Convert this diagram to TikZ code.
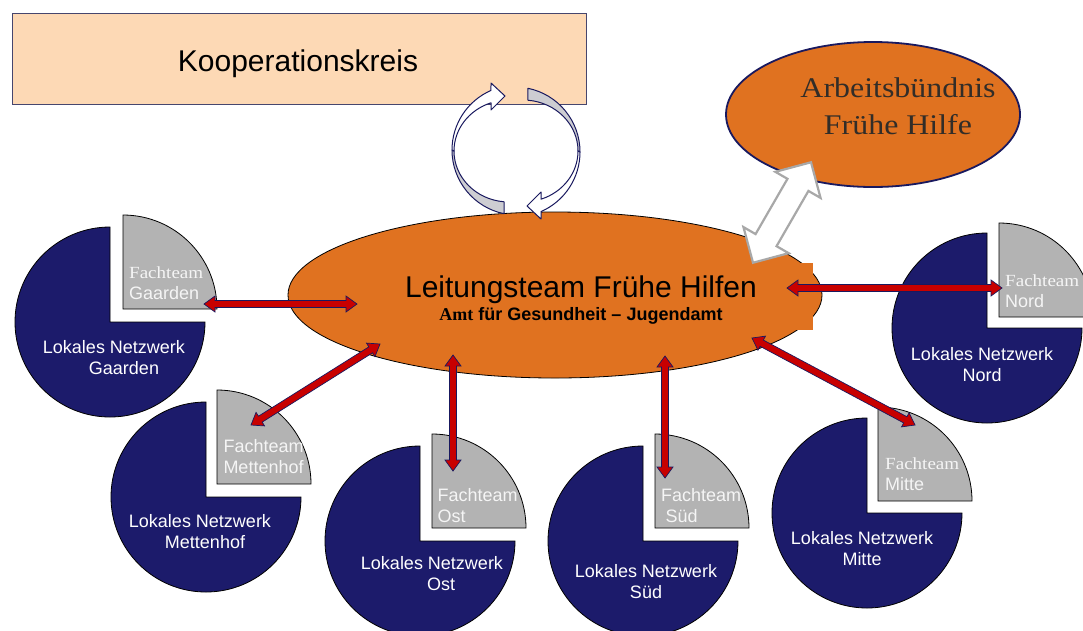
\documentclass[tikz,border=0pt]{standalone}
\usepackage{fontspec}
\setmainfont{Liberation Sans}
\newfontfamily\camb[FakeStretch=1.12]{Liberation Serif}
\newfontfamily\timesf{Liberation Serif}
\usetikzlibrary{shapes.geometric,shapes.arrows,calc}
\definecolor{orangeF}{RGB}{224,114,32}
\definecolor{navyP}{RGB}{28,27,107}
\definecolor{grayQ}{RGB}{179,179,179}
\definecolor{peach}{RGB}{253,217,181}
\definecolor{redA}{RGB}{200,0,0}
\definecolor{navyL}{RGB}{25,25,95}
\definecolor{boxline}{RGB}{70,70,110}
\definecolor{cycgray}{RGB}{205,205,210}
\definecolor{arrgray}{RGB}{168,168,168}
\definecolor{darktext}{RGB}{50,45,40}
\definecolor{fachtext}{RGB}{245,245,245}
\newcommand\pie[4]{%
  \filldraw[navypie] (#1,#2) -- ++(0:95) arc[start angle=0,end angle=270,radius=95] -- cycle;
  \filldraw[graypie] (#3,#4) -- ++(270:94) arc[start angle=270,end angle=360,radius=94] -- cycle;}
\newcommand\redarrow[2]{%
  \path ($(#1)!11pt!(#2)$) coordinate (ra1) ($(#2)!11pt!(#1)$) coordinate (ra2);
  \filldraw[redarr] (#1) -- ($(ra1)!8pt!90:(#2)$) -- ($(ra1)!3.5pt!90:(#2)$) -- ($(ra2)!3.5pt!-90:(#1)$) -- ($(ra2)!8pt!-90:(#1)$) -- (#2) -- ($(ra2)!8pt!90:(#1)$) -- ($(ra2)!3.5pt!90:(#1)$) -- ($(ra1)!3.5pt!-90:(#2)$) -- ($(ra1)!8pt!-90:(#2)$) -- cycle;}
\newcommand\cyclearrow{%
  \filldraw[cycpart, fill=cycgray] (517,150) ++(101.5:65) arc[start angle=101.5,end angle=180,radius=65] -- (454,151) arc[start angle=180,end angle=95.2,x radius=55,y radius=51] -- cycle;
  \filldraw[cycpart, fill=white] (452,150) arc[start angle=180,end angle=246.4,radius=65] -- (491,83) -- (505,96) -- (491,110) -- (491,102.8) arc[start angle=250.9,end angle=180,x radius=55,y radius=51] -- cycle;}
\begin{document}
\begin{tikzpicture}[x=1pt,y=-1pt,
  navypie/.style={fill=navyP, draw=black, line width=0.8pt},
  graypie/.style={fill=grayQ, draw=black, line width=0.8pt},
  redarr/.style={fill=redA, draw=navyL, line width=0.7pt, line join=miter},
  cycpart/.style={draw=navyL, line width=1pt, line join=round},
  lokal/.style={text=white, font=\fontsize{18}{21}\selectfont, align=center, anchor=base, inner sep=0pt},
  fach/.style={text=fachtext, font=\fontsize{18}{20.7}\selectfont, align=left, anchor=base west, inner sep=0pt}]
\useasboundingbox (0,0) rectangle (1083,630);
\fill[white] (0,0) rectangle (1083,630);
% Kooperationskreis
\node[draw=boxline, line width=0.8pt, fill=peach, minimum width=574pt, minimum height=91pt, inner sep=0pt, anchor=north west] (kk) at (12,13) {};
\node[font=\fontsize{30}{33}\selectfont, anchor=base, inner sep=0pt] (kkt) at (298,71) {Kooperationskreis};
% pies
\pie{110}{322}{123}{309}
\pie{987}{328}{999}{317}
\pie{206}{497}{217}{484}
\pie{420}{541}{432}{528}
\pie{643}{541}{655}{528}
\pie{867}{513}{878}{501}
% pie labels (anchor = baseline of last line)
\node[lokal] (lg) at (114,374) {Lokales Netzwerk\\\hspace*{20pt}Gaarden};
\node[lokal] (ln) at (982,381) {Lokales Netzwerk\\Nord};
\node[lokal] (lm) at (200,548.5) {Lokales Netzwerk\\\hspace*{10pt}Mettenhof};
\node[lokal] (lo) at (432,590) {Lokales Netzwerk\\\hspace*{18pt}Ost};
\node[lokal] (ls) at (646,598) {Lokales Netzwerk\\Süd};
\node[lokal] (lmi) at (862,565) {Lokales Netzwerk\\Mitte};
\node[fach] (fg) at (129,299) {{\camb\fontsize{17}{20}\selectfont Fachteam}\\Gaarden};
\node[fach] (fn) at (1005,307) {{\camb\fontsize{17}{20}\selectfont Fachteam}\\Nord};
\node[fach] (fm) at (223.3,473.3) {Fachteam\\Mettenhof};
\node[fach] (fo) at (437.3,522.5) {Fachteam\\Ost};
\node[fach] (fs) at (661,522.5) {Fachteam\\\hspace*{4.5pt}Süd};
\node[fach] (fmi) at (885,490) {{\camb\fontsize{17}{20}\selectfont Fachteam}\\Mitte};
% main ellipse
\node[ellipse, draw=black, line width=0.8pt, fill=orangeF, minimum width=534pt, minimum height=166pt, inner sep=0pt] (lt) at (555,295) {};
\fill[orangeF] (792,263) rectangle (813,330);
\node[font=\fontsize{30}{33}\selectfont, anchor=base, inner sep=0pt] (ltt) at (581,297) {Leitungsteam Frühe Hilfen};
\node[font=\fontsize{18}{20}\selectfont\bfseries, anchor=base, inner sep=0pt] (lts) at (581,320) {{\timesf Amt} für Gesundheit – Jugendamt};
% Arbeitsbuendnis
\node[ellipse, draw=navyL, line width=1.8pt, fill=orangeF, minimum width=294pt, minimum height=145pt, inner sep=0pt] (ab) at (873,114.5) {};
\node[font=\camb\fontsize{28.5}{37}\selectfont, text=darktext, align=center, anchor=base, inner sep=0pt] (abt) at (898,134.5) {Arbeitsbündnis\\Frühe Hilfe};
% double arrow
\node[double arrow, draw=arrgray, line width=2.2pt, fill=white, rotate=60, minimum height=116pt, inner xsep=0pt, inner ysep=11pt, double arrow head extend=14pt] (dbl) at (782,212.5) {};
% cycle arrows
\cyclearrow
\begin{scope}[rotate around={180:(516,151)}]
\cyclearrow
\end{scope}
% red arrows
\coordinate (gA) at (204,304); \coordinate (gB) at (357,304);
\coordinate (nA) at (787,288); \coordinate (nB) at (1002,288);
\coordinate (mA) at (380,344); \coordinate (mB) at (251,425);
\coordinate (oA) at (453,355); \coordinate (oB) at (453,471);
\coordinate (sA) at (665,356); \coordinate (sB) at (665,478);
\coordinate (miA) at (752,338); \coordinate (miB) at (915,425);
\redarrow{gA}{gB}
\redarrow{nA}{nB}
\redarrow{mA}{mB}
\redarrow{oA}{oB}
\redarrow{sA}{sB}
\redarrow{miA}{miB}
\end{tikzpicture}
\end{document}
